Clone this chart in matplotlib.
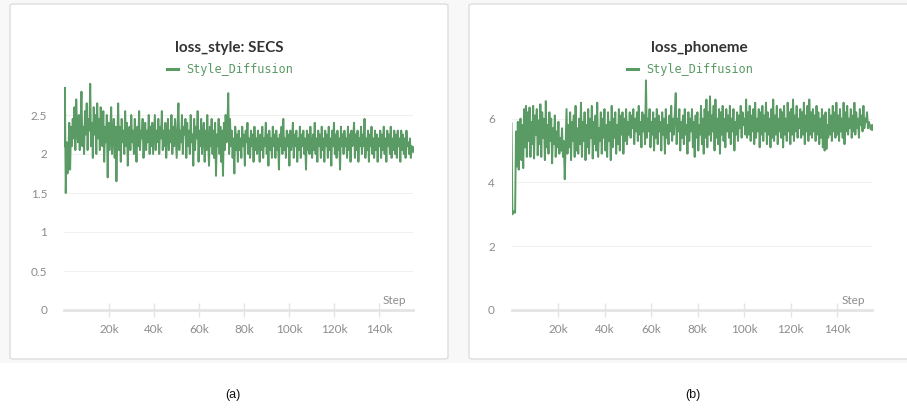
import numpy as np
import matplotlib.pyplot as plt
from matplotlib.patches import FancyBboxPatch, Rectangle
from matplotlib.lines import Line2D

# one logged value every 388 steps
LOG_EVERY = 388

secs_loss = [
    2.10, 2.85, 1.50, 2.15, 1.75, 2.00, 2.40, 1.80, 2.35, 2.10, 2.45, 2.20, 2.60, 2.05, 2.70, 2.30, 2.15, 2.50, 2.05, 2.40,
    2.80, 2.10, 2.35, 2.00, 2.55, 2.25, 2.65, 2.05, 2.45, 2.30, 2.90, 2.10, 2.40, 1.95, 2.60, 2.25, 2.50, 2.00, 2.65, 2.20,
    2.45, 2.05, 2.60, 2.30, 2.10, 2.55, 1.90, 2.35, 2.15, 2.50, 1.70, 2.40, 2.05, 2.30, 2.60, 2.00, 2.25, 2.45, 1.95, 2.35,
    1.65, 2.20, 2.65, 2.05, 2.35, 1.90, 2.45, 2.15, 2.30, 2.00, 2.55, 2.10, 2.40, 1.85, 2.25, 2.35, 2.05, 2.50, 2.15, 2.30,
    2.00, 2.45, 2.20, 1.90, 2.35, 2.10, 2.55, 2.05, 2.30, 2.20, 2.45, 1.95, 2.25, 2.40, 2.05, 2.30, 2.15, 2.50, 2.00, 2.35,
    2.10, 2.40, 2.00, 2.25, 2.50, 2.05, 2.30, 2.15, 2.45, 2.00, 2.35, 2.20, 2.55, 2.05, 2.30, 2.10, 2.40, 1.95, 2.25, 2.45,
    2.05, 2.30, 2.15, 2.50, 2.00, 2.35, 2.10, 2.45, 2.20, 1.95, 2.40, 2.65, 2.05, 2.30, 2.15, 2.50, 2.00, 2.35, 2.25, 2.45,
    1.95, 2.40, 2.10, 2.30, 2.00, 2.50, 2.15, 2.25, 1.85, 2.45, 2.05, 2.35, 2.20, 2.55, 1.90, 2.30, 2.10, 2.45, 2.00, 2.25,
    2.40, 1.90, 2.30, 2.05, 2.50, 2.15, 1.85, 2.35, 2.10, 2.45, 2.00, 2.30, 1.95, 2.40, 1.72, 2.25, 2.10, 2.45, 2.00, 2.35,
    1.90, 2.30, 1.72, 2.40, 2.05, 2.50, 2.15, 2.35, 2.78, 2.00, 2.45, 2.10, 2.30, 1.95, 2.20, 1.75, 2.35, 2.05, 2.25, 1.90,
    2.30, 2.05, 2.20, 1.95, 2.35, 2.10, 2.25, 1.85, 2.30, 2.15, 2.40, 2.00, 2.20, 1.95, 2.30, 2.10, 2.25, 1.90, 2.35, 2.05,
    2.20, 2.00, 2.30, 2.15, 1.90, 2.25, 2.05, 2.35, 1.95, 2.20, 2.10, 2.40, 2.00, 2.25, 1.85, 2.30, 2.05, 2.20, 1.95, 2.35,
    2.10, 2.25, 1.95, 2.30, 2.05, 2.20, 1.80, 2.25, 2.10, 2.35, 2.00, 2.45, 2.05, 2.20, 1.95, 2.30, 2.10, 2.25, 1.85, 2.30,
    2.05, 2.20, 2.40, 1.95, 2.25, 2.10, 2.30, 1.90, 2.20, 2.05, 2.35, 1.95, 2.25, 2.10, 2.30, 2.00, 2.20, 1.80, 2.30, 2.05,
    2.25, 2.00, 2.35, 2.10, 1.95, 2.25, 2.05, 2.40, 2.00, 2.20, 1.90, 2.30, 2.10, 2.25, 1.95, 2.35, 2.05, 2.20, 1.90, 2.30,
    2.10, 2.25, 1.95, 2.35, 2.05, 2.20, 1.85, 2.30, 2.10, 2.40, 2.00, 2.25, 1.95, 2.30, 2.05, 2.20, 1.80, 2.35, 2.10, 2.25,
    2.00, 2.30, 2.10, 2.20, 1.95, 2.35, 2.05, 2.25, 1.90, 2.30, 2.10, 2.20, 2.40, 1.95, 2.25, 2.05, 2.30, 1.90, 2.20, 2.10,
    2.35, 2.00, 2.25, 2.10, 2.45, 1.95, 2.20, 2.05, 2.30, 1.90, 2.25, 2.10, 2.35, 2.00, 2.20, 1.95, 2.30, 2.05, 2.25, 1.90,
    2.20, 2.10, 2.30, 1.95, 2.25, 2.05, 2.35, 2.00, 2.20, 1.90, 2.30, 2.10, 2.25, 2.00, 2.35, 1.95, 2.20, 2.05, 2.30, 2.00,
    2.25, 1.95, 2.30, 2.10, 2.20, 1.90, 2.30, 2.05, 2.25, 2.00, 2.20, 1.95, 2.30, 2.10, 2.15, 2.00, 2.20, 1.95, 2.10, 2.07,
]

phoneme_loss = [
    5.85, 3.00, 3.05, 3.10, 3.05, 5.60, 4.50, 5.90, 4.40, 5.50, 6.00, 4.70, 5.80, 4.45, 6.30, 5.10, 6.40, 4.80, 6.20, 5.30,
    6.35, 4.80, 5.90, 5.20, 6.40, 4.75, 6.10, 5.50, 6.30, 4.85, 5.95, 5.20, 6.45, 4.80, 6.20, 5.40, 6.00, 4.70, 6.55, 5.10,
    5.80, 4.90, 6.20, 5.30, 6.00, 4.60, 5.70, 5.20, 6.10, 4.80, 5.60, 5.10, 5.90, 4.90, 5.40, 5.00, 5.70, 4.80, 5.30, 4.10,
    5.20, 6.30, 4.90, 5.80, 5.10, 6.20, 4.70, 5.90, 5.30, 6.10, 4.80, 6.40, 5.00, 5.70, 4.90, 6.00, 5.20, 6.50, 4.80, 5.90,
    5.30, 6.20, 4.70, 5.80, 5.10, 6.30, 4.90, 6.00, 5.40, 6.40, 4.75, 5.90, 5.20, 6.10, 5.00, 6.50, 4.80, 5.70, 5.30, 6.20,
    4.90, 6.00, 5.40, 6.30, 5.00, 5.80, 4.80, 6.20, 5.30, 5.90, 4.70, 6.40, 5.10, 6.00, 5.40, 6.20, 4.90, 5.80, 5.20, 6.30,
    5.00, 6.10, 5.50, 6.20, 4.90, 6.00, 5.30, 6.30, 5.20, 5.90, 5.50, 6.20, 5.40, 6.10, 5.70, 6.30, 5.20, 6.00, 5.60, 6.20,
    5.30, 6.40, 5.50, 5.90, 5.10, 6.20, 5.60, 6.10, 5.20, 7.20, 5.40, 6.00, 5.60, 6.30, 5.10, 5.90, 5.50, 6.20, 5.00, 6.00,
    5.40, 6.30, 5.20, 6.10, 5.60, 5.90, 5.00, 6.20, 5.50, 6.00, 4.90, 6.30, 5.40, 5.80, 5.20, 6.10, 5.60, 6.40, 5.30, 6.00,
    5.50, 6.20, 6.80, 5.20, 6.00, 5.60, 6.30, 5.00, 5.90, 5.40, 6.10, 5.20, 6.30, 5.50, 5.80, 4.90, 6.20, 5.30, 6.00, 5.60,
    6.30, 5.10, 5.90, 4.80, 6.10, 5.40, 6.20, 5.00, 5.80, 5.50, 6.40, 5.20, 6.00, 4.90, 6.30, 5.40, 6.60, 5.10, 6.20, 5.50,
    6.70, 5.30, 6.10, 5.60, 6.40, 5.00, 6.60, 5.40, 6.00, 5.20, 6.30, 4.90, 6.20, 5.50, 6.40, 5.30, 6.00, 5.10, 6.30, 5.60,
    6.10, 5.40, 6.40, 5.20, 6.00, 5.60, 6.30, 5.00, 5.90, 5.50, 6.20, 5.30, 6.10, 5.70, 6.40, 5.40, 6.20, 5.80, 6.00, 5.50,
    6.60, 5.40, 6.20, 5.50, 6.40, 5.30, 6.10, 5.60, 6.30, 5.20, 6.50, 5.40, 6.00, 5.60, 6.30, 5.10, 6.20, 5.50, 6.40, 5.30,
    6.10, 5.60, 6.50, 5.20, 6.20, 5.50, 6.00, 5.10, 6.30, 5.40, 6.60, 5.30, 6.10, 5.50, 6.40, 5.20, 6.00, 5.60, 6.30, 5.40,
    6.20, 5.10, 6.40, 5.50, 6.00, 5.30, 6.50, 5.60, 6.20, 5.20, 6.30, 5.50, 6.60, 5.30, 6.10, 5.60, 6.40, 5.40, 6.00, 5.70,
    6.30, 5.40, 6.20, 5.50, 6.50, 5.20, 6.10, 5.60, 6.40, 5.30, 6.60, 5.50, 6.20, 5.40, 6.30, 5.60, 6.10, 5.30, 6.40, 5.50,
    6.20, 5.20, 6.00, 5.40, 6.30, 5.10, 6.10, 5.00, 6.20, 5.05, 5.80, 5.40, 6.30, 5.50, 6.10, 5.30, 6.40, 5.60, 6.20, 5.40,
    6.50, 5.50, 6.10, 5.30, 6.30, 5.60, 6.00, 5.40, 6.50, 5.20, 6.20, 5.60, 6.40, 5.50, 6.00, 5.70, 6.30, 5.40, 6.10, 5.60,
    6.50, 5.50, 6.20, 5.70, 6.00, 5.40, 6.30, 5.80, 6.10, 5.60, 6.40, 5.70, 6.00, 5.90, 6.20, 5.70, 5.90, 5.80, 5.75, 5.75,
]

xticks = [20000, 40000, 60000, 80000, 100000, 120000, 140000]
xticklabels = ['20k', '40k', '60k', '80k', '100k', '120k', '140k']

GREEN = '#5a9a64'
TICK_GRAY = '#8c8c8c'
W, H = 907, 408

fig = plt.figure(figsize=(W / 100, H / 100), dpi=100)
fig.patch.set_facecolor('white')


def rect(x0, y0, x1, y1):
    # pixel box (top-left origin) -> figure fraction
    return [x0 / W, 1 - y1 / H, (x1 - x0) / W, (y1 - y0) / H]


# light page strip behind the cards
fig.patches.append(Rectangle((0, 1 - 363 / H), 1, 363 / H, transform=fig.transFigure,
                             facecolor='#f8f8f8', edgecolor='none', zorder=-3))


def panel(card, axbox, title, values, ylim, yticks, yticklabels, leg_x, caption, cap_x):
    x0, y0, x1, y1 = card
    fig.patches.append(FancyBboxPatch((x0 / W, 1 - y1 / H), (x1 - x0) / W, (y1 - y0) / H,
                                      boxstyle='round,pad=0,rounding_size=0.004',
                                      transform=fig.transFigure, facecolor='white',
                                      edgecolor='#dadada', lw=0.9, zorder=-2))
    cx = (x0 + x1) / 2
    fig.text(cx / W, 1 - 48 / H, title, ha='center', va='center', fontsize=11,
             fontweight='bold', family='Lato', color='#333333')
    fig.lines.append(Line2D([leg_x / W, (leg_x + 11) / W], [1 - 69 / H, 1 - 69 / H],
                            transform=fig.transFigure, color=GREEN, lw=2.2))
    fig.text((leg_x + 19) / W, 1 - 69 / H, 'Style_Diffusion', ha='left', va='center',
             fontsize=8.6, family='DejaVu Sans Mono', color=GREEN)
    fig.text(cap_x / W, 1 - 395 / H, caption, ha='center', va='center', fontsize=9,
             family='Liberation Sans', color='#111111')

    steps = np.arange(len(values)) * LOG_EVERY
    ax = fig.add_axes(rect(*axbox))
    ax.patch.set_alpha(0)
    ax.plot(steps, values, color=GREEN, lw=1.4)
    ax.plot(steps[-1], values[-1], 'o', ms=3.8, color=GREEN)
    ax.set_xlim(0, 155000)
    ax.set_ylim(*ylim)
    ax.set_xticks(xticks)
    ax.set_xticklabels(xticklabels)
    ax.set_yticks(yticks)
    ax.set_yticklabels(yticklabels)
    for s in ['top', 'right', 'left']:
        ax.spines[s].set_visible(False)
    ax.spines['bottom'].set_color('#e4e4e4')
    ax.spines['bottom'].set_linewidth(2)
    ax.tick_params(axis='x', direction='inout', length=10, width=1, color='#e4e4e4',
                   pad=5, labelsize=8.5, labelcolor=TICK_GRAY)
    ax.tick_params(axis='y', length=0, pad=12, labelsize=8.5, labelcolor=TICK_GRAY)
    for lab in ax.get_xticklabels() + ax.get_yticklabels():
        lab.set_family('Lato')
    ax.yaxis.grid(True, color='#f0f0f0', lw=0.8)
    ax.set_axisbelow(True)
    ax.annotate('Step', xy=(1, 0), xycoords='axes fraction', xytext=(-7, 4),
                textcoords='offset pixels', ha='right', va='bottom', fontsize=8.5,
                family='Lato', color=TICK_GRAY)
    return ax


panel((10, 4, 448, 359), (64, 76, 413, 310), 'loss_style: SECS', secs_loss,
      (0, 3.0), [0, 0.5, 1, 1.5, 2, 2.5], ['0', '0.5', '1', '1.5', '2', '2.5'],
      167, '(a)', 233)
panel((469, 4, 930, 359), (511.5, 74, 872, 310), 'loss_phoneme', phoneme_loss,
      (0, 7.4), [0, 2, 4, 6], ['0', '2', '4', '6'],
      627, '(b)', 693)

fig.savefig('out.png', dpi=100)
